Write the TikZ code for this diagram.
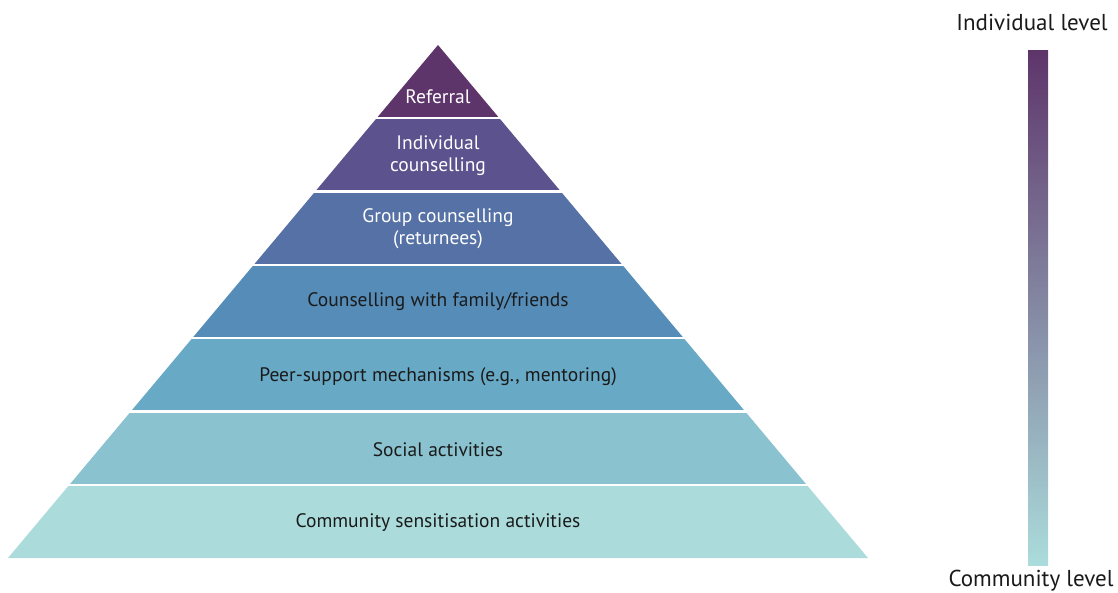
\documentclass[tikz,border=0pt]{standalone}
\usepackage{fontspec}
\setmainfont{PT Sans}
\definecolor{lvA}{HTML}{5E356B}
\definecolor{lvB}{HTML}{5C538E}
\definecolor{lvC}{HTML}{5571A6}
\definecolor{lvD}{HTML}{568DB8}
\definecolor{lvE}{HTML}{68A9C6}
\definecolor{lvF}{HTML}{8AC2D0}
\definecolor{lvG}{HTML}{ABDCDB}
\definecolor{barmid}{HTML}{7A8E9F}
\definecolor{ink}{HTML}{1A1A1A}
\tikzset{
  layertext/.style={align=center, font=\fontsize{19.5}{22}\selectfont, text=ink, inner sep=0pt},
  lighttext/.style={layertext, text=white},
  scaletext/.style={font=\fontsize{23}{27}\selectfont, text=ink, inner sep=0pt},
  gap/.style={draw=white, line width=2.4pt}
}
\begin{document}
\begin{tikzpicture}[x=1pt, y=-1pt]
\useasboundingbox (0,0) rectangle (1118,593);
% pyramid layers, apex at (438,45), base at y=558 from x=8 to x=868
\foreach \i/\c in {0/lvA,1/lvB,2/lvC,3/lvD,4/lvE,5/lvF,6/lvG} {
  \pgfmathsetmacro\ya{45+\i*73.286}
  \pgfmathsetmacro\yb{\ya+73.286}
  \pgfmathsetmacro\da{0.8382*(\ya-45)}
  \pgfmathsetmacro\db{0.8382*(\yb-45)}
  \fill[fill=\c] ({438-\da},\ya) -- ({438+\da},\ya) -- ({438+\db},\yb) -- ({438-\db},\yb) -- cycle;
}
% white separators between layers
\foreach \i in {1,...,6} {
  \pgfmathsetmacro\ya{45+\i*73.286}
  \pgfmathsetmacro\da{0.8382*(\ya-45)+2}
  \draw[gap] ({438-\da},\ya) -- ({438+\da},\ya);
}
% layer labels
\node[lighttext] (referral) at (438,96.5) {Referral};
\node[lighttext] (indiv) at (438,155.5) {Individual\\counselling};
\node[lighttext] (group) at (438,229) {Group counselling\\(returnees)};
\node[layertext] (family) at (438,302) {Counselling with family/friends};
\node[layertext] (peer) at (438,376.5) {Peer-support mechanisms (e.g., mentoring)};
\node[layertext] (social) at (438,449.5) {Social activities};
\node[layertext] (community) at (438,523) {Community sensitisation activities};
% level scale bar
\shade[top color=lvA, middle color=barmid, bottom color=lvG] (1028,51) rectangle (1048,565);
\node[scaletext] (top) at (1032,23) {Individual level};
\node[scaletext] (bottom) at (1031,581) {Community level};
\end{tikzpicture}
\end{document}
